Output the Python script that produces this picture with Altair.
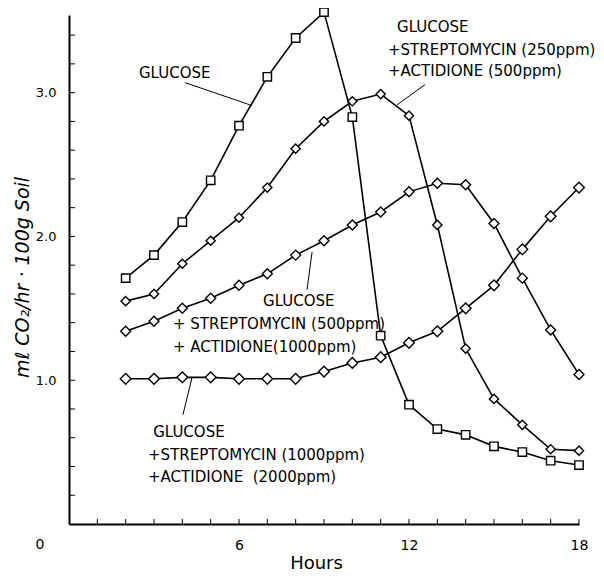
import altair as alt
import pandas as pd

# ---- data ----
hours = list(range(2, 19))
glucose = [1.71, 1.87, 2.10, 2.39, 2.77, 3.11, 3.38, 3.56, 2.83, 1.31, 0.83, 0.66, 0.62, 0.54, 0.50, 0.44, 0.41]
strep250 = [1.55, 1.60, 1.81, 1.97, 2.13, 2.34, 2.61, 2.80, 2.94, 2.99, 2.84, 2.08, 1.22, 0.87, 0.69, 0.52, 0.51]
strep500 = [1.34, 1.41, 1.50, 1.57, 1.66, 1.74, 1.87, 1.97, 2.08, 2.17, 2.31, 2.37, 2.36, 2.09, 1.71, 1.35, 1.04]
strep1000 = [1.01, 1.01, 1.02, 1.02, 1.01, 1.01, 1.01, 1.06, 1.12, 1.16, 1.26, 1.34, 1.50, 1.66, 1.91, 2.14, 2.34]
series_names = ["Glucose", "Strep250", "Strep500", "Strep1000"]
series_values = [glucose, strep250, strep500, strep1000]
series_shapes = ["square", "diamond", "diamond", "diamond"]
series_sizes = [70, 115, 115, 115]

label_text = ["GLUCOSE",
              "GLUCOSE", "+STREPTOMYCIN (250ppm)", "+ACTIDIONE (500ppm)",
              "GLUCOSE", "+ STREPTOMYCIN (500ppm)", "+ ACTIDIONE(1000ppm)",
              "GLUCOSE", "+STREPTOMYCIN (1000ppm)", "+ACTIDIONE\u00a0 (2000ppm)"]
label_x = [2.47, 11.58, 11.26, 11.26, 6.85, 3.67, 3.67, 2.97, 2.79, 2.79]
label_y = [3.14, 3.46, 3.30, 3.15, 1.55, 1.39, 1.23, 0.64, 0.48, 0.33]

leader_x = [4.09, 12.57, 8.58, 4.34]
leader_y = [3.07, 3.056, 1.893, 1.016]
leader_x2 = [6.46, 11.58, 8.40, 4.02]
leader_y2 = [2.91, 2.916, 1.629, 0.759]

x_ticks = list(range(1, 19))
y_ticks = [0.2, 0.4, 0.6, 0.8, 1.0, 1.2, 1.4, 1.6, 1.8, 2.0, 2.2, 2.4, 2.6, 2.8, 3.0, 3.2, 3.4]
x_labels = [6, 12, 18]
y_labels = [1.0, 2.0, 3.0]

W, H = 510, 509
FONT = "DejaVu Sans"

rows = []
for name, vals in zip(series_names, series_values):
    for h, v in zip(hours, vals):
        rows.append({"series": name, "hour": h, "value": v})
df = pd.DataFrame(rows)

labels_df = pd.DataFrame({"text": label_text, "x": label_x, "y": label_y})
leaders_df = pd.DataFrame({"x": leader_x, "y": leader_y, "x2": leader_x2, "y2": leader_y2})
xt_df = pd.DataFrame({"t": x_ticks})
yt_df = pd.DataFrame({"t": y_ticks})
zero_df = pd.DataFrame({"t": [0], "v": [0.0], "lab": ["0"]})

xscale = alt.Scale(domain=[0, 18], nice=False, zero=False)
yscale = alt.Scale(domain=[0, 3.54], nice=False, zero=False)

xaxis = alt.Axis(values=x_labels, title="Hours", grid=False, ticks=False, labelFlush=False,
                 domainColor="black", domainWidth=2, labelFont=FONT, labelFontSize=14,
                 labelColor="black", labelPadding=14, titleFont=FONT, titleFontSize=18,
                 titleFontWeight="normal", titleColor="black", titleX=247, titleY=39,
                 titleBaseline="middle", titleAlign="center")
yaxis = alt.Axis(values=y_labels, format=".1f", title="mℓ CO₂/hr · 100g Soil", grid=False,
                 ticks=False, labelFlush=False, domainColor="black", domainWidth=2,
                 labelFont=FONT, labelFontSize=13, labelColor="black", labelPadding=13,
                 titleFont=FONT, titleFontSize=19, titleFontWeight="normal",
                 titleFontStyle="italic", titleColor="black", titleX=-47, titleY=262,
                 titleAngle=-90, titleBaseline="middle", titleAlign="center")

base = alt.Chart(df)

lines = base.mark_line(color="black", strokeWidth=1.6).encode(
    x=alt.X("hour:Q", scale=xscale, axis=xaxis),
    y=alt.Y("value:Q", scale=yscale, axis=yaxis),
    detail="series:N",
)

points = base.mark_point(filled=True, fill="white", stroke="black", strokeWidth=1.4,
                         opacity=1).encode(
    x=alt.X("hour:Q", scale=xscale),
    y=alt.Y("value:Q", scale=yscale),
    shape=alt.Shape("series:N", scale=alt.Scale(domain=series_names, range=series_shapes),
                    legend=None),
    size=alt.Size("series:N", scale=alt.Scale(domain=series_names, range=series_sizes),
                  legend=None),
)

leaders = alt.Chart(leaders_df).mark_rule(color="black", strokeWidth=1).encode(
    x=alt.X("x:Q", scale=xscale), y=alt.Y("y:Q", scale=yscale),
    x2="x2:Q", y2="y2:Q",
)

texts = alt.Chart(labels_df).mark_text(font=FONT, fontSize=15, align="left",
                                       baseline="middle", color="black").encode(
    x=alt.X("x:Q", scale=xscale), y=alt.Y("y:Q", scale=yscale), text="text:N",
)

xt = alt.Chart(xt_df).mark_rule(color="black", strokeWidth=1).encode(
    x=alt.X("t:Q", scale=xscale), y=alt.value(H), y2=alt.value(H - 5),
)
yt = alt.Chart(yt_df).mark_rule(color="black", strokeWidth=1).encode(
    y=alt.Y("t:Q", scale=yscale), x=alt.value(0), x2=alt.value(6),
)

zero = alt.Chart(zero_df).mark_text(font=FONT, fontSize=14, color="black", dx=-29, dy=21,
                                    baseline="middle").encode(
    x=alt.X("t:Q", scale=xscale), y=alt.Y("v:Q", scale=yscale), text="lab:N",
)

chart = alt.layer(lines, points, leaders, texts, xt, yt, zero).properties(
    width=W, height=H,
    autosize=alt.AutoSizeParams(type="none"),
    padding={"left": 61, "top": 7, "right": 17, "bottom": 50},
    background="white",
).configure_view(stroke=None)

chart.save("out.html", embed_options={"renderer": "svg", "actions": False})
